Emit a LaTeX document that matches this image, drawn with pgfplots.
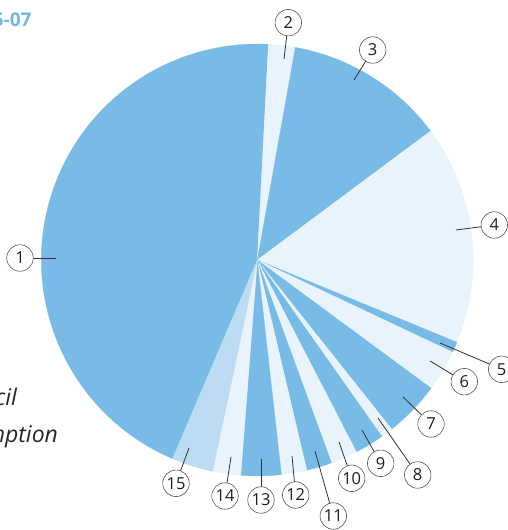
\documentclass[border=0pt]{standalone}
\usepackage{pgfplots}
\usepackage{pgfplotstable}
\pgfplotsset{compat=1.18}
\usepackage{fontspec}
\setmainfont{Open Sans}
\definecolor{sliceA}{HTML}{78BBE6}
\definecolor{sliceL}{HTML}{E8F3FB}
\definecolor{sliceM}{HTML}{BBDCF2}
\definecolor{titleblue}{HTML}{72B8E5}
\definecolor{leader}{HTML}{333333}
\definecolor{ringgray}{HTML}{555555}

% share of each slice (percent), in clockwise order from slice 1
\pgfplotstableread{
id share colour
1  44.4 sliceA
2  2.0  sliceL
3  12.0 sliceA
4  16.4 sliceL
5  0.8  sliceA
6  3.1  sliceL
7  4.2  sliceA
8  0.9  sliceL
9  2.2  sliceA
10 2.0  sliceL
11 1.9  sliceA
12 1.9  sliceL
13 3.0  sliceA
14 2.1  sliceL
15 3.1  sliceM
}\piedata

% label circle centre (cx,cy) and leader end (lx,ly), picture pixels from top-left
\pgfplotstableread{
n  cx    cy    lx  ly
1  20    258   56  258
2  288.3 22.7  284 59
3  372.7 50    354 80
4  494.3 225   456 230
5  501.7 369.3 440 343
6  464.3 381.7 430 361
7  431   424   403 397
8  417.7 475   378 418
9  380.7 463.3 362 430
10 351.7 478.3 339 442
11 333.3 516   315 451
12 295.7 495   292 456
13 261   500   261 459
14 225   496   231 457
15 176   483.3 189 448
}\labeldata

\begin{document}
\begin{tikzpicture}
\begin{axis}[
  x=1pt, y=1pt,
  xmin=0, xmax=508, ymin=0, ymax=530,
  scale only axis, hide axis, clip=false,
]
\def\curang{246.9}
\pgfplotsforeachungrouped \i in {0,...,14}{%
  \pgfplotstablegetelem{\i}{share}\of\piedata \let\val\pgfplotsretval
  \pgfplotstablegetelem{\i}{colour}\of\piedata \let\col\pgfplotsretval
  \pgfmathsetmacro\endang{\curang-3.6*\val}%
  \edef\doslice{\noexpand\addplot[fill=\col, draw=\col, line width=0.2pt, forget plot] coordinates {(257.3,270)} -- ++(\curang:216pt) arc[start angle=\curang, end angle=\endang, radius=216pt] -- cycle;}%
  \doslice
  \global\let\curang\endang
}

% leader lines and numbered circles
\pgfplotsforeachungrouped \i in {0,...,14}{%
  \pgfplotstablegetelem{\i}{n}\of\labeldata \let\nn\pgfplotsretval
  \pgfplotstablegetelem{\i}{cx}\of\labeldata \let\cx\pgfplotsretval
  \pgfplotstablegetelem{\i}{cy}\of\labeldata \pgfmathsetmacro\cyy{530-\pgfplotsretval}%
  \pgfplotstablegetelem{\i}{lx}\of\labeldata \let\lx\pgfplotsretval
  \pgfplotstablegetelem{\i}{ly}\of\labeldata \pgfmathsetmacro\lyy{530-\pgfplotsretval}%
  \edef\dolabel{%
    \noexpand\draw[leader, line width=0.8pt] (axis cs:\lx,\lyy) -- (axis cs:\cx,\cyy);
    \noexpand\node[circle, draw=ringgray, line width=0.6pt, fill=white, minimum size=26.5pt, inner sep=0pt, text=black!88, font=\noexpand\fontsize{16.5}{18}\noexpand\selectfont] at (axis cs:\cx,\cyy) {\nn};
  }%
  \dolabel
}

\node[anchor=base east, text=titleblue, font=\fontsize{19}{22}\selectfont\bfseries] at (axis cs:35,503) {2005-07};
\node[anchor=base east, text=black!85, font=\fontsize{23}{26}\selectfont\itshape] at (axis cs:20.5,124) {Council};
\node[anchor=base east, text=black!85, font=\fontsize{23}{26}\selectfont\itshape] at (axis cs:61.5,87.3) {consumption};
\end{axis}
\pgfresetboundingbox
\path[use as bounding box] (current axis.south west) rectangle (current axis.north east);
\end{tikzpicture}
\end{document}
